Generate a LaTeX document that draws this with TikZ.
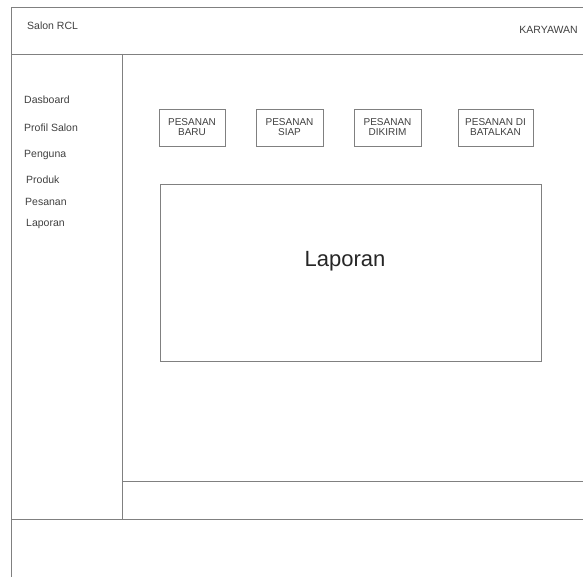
\documentclass[tikz,border=0pt]{standalone}
\usepackage{fontspec}
\setmainfont{Liberation Sans}
\usetikzlibrary{positioning}
\begin{document}
\begin{tikzpicture}[x=1pt,y=-1pt,
frameline/.style={draw=black!50, line width=0.9pt},
menutext/.style={anchor=west, inner sep=0pt, text=black!75, font=\fontsize{10.5}{11}\selectfont},
statusbox/.style={rectangle, frameline, minimum height=37pt, align=center, inner sep=1pt, text=black!75, font=\fontsize{10}{10}\selectfont},
reportbox/.style={rectangle, frameline, minimum width=381pt, minimum height=177pt}]
\useasboundingbox (0,0) rectangle (583,577);
% Frame
\draw[frameline] (583,7) -- (11,7) -- (11,577);
\draw[frameline] (11,54) -- (583,54);
\draw[frameline] (122,54) -- (122,519);
\draw[frameline] (122,481) -- (583,481);
\draw[frameline] (11,519) -- (583,519);
% Header
\node[menutext] (brand) at (27,26) {Salon RCL};
\node[menutext, anchor=east] (role) at (578,30) {KARYAWAN};
% Menu
\node[menutext] (dasboard) at (24,100) {Dasboard};
\node[menutext] (profil) at (24,128) {Profil Salon};
\node[menutext] (pengguna) at (24,155) {Penguna};
\node[menutext] (produk) at (26,180) {Produk};
\node[menutext] (pesanan) at (25,202) {Pesanan};
\node[menutext] (laporan) at (26,224) {Laporan};
% Status boxes
\node[statusbox, minimum width=66pt] (baru) at (192,127.5) {PESANAN\\BARU};
\node[statusbox, minimum width=67pt] (siap) at (289.5,127.5) {PESANAN\\SIAP};
\node[statusbox, minimum width=67pt] (dikirim) at (387.5,127.5) {PESANAN\\DIKIRIM};
\node[statusbox, minimum width=75pt] (batal) at (495.5,127.5) {PESANAN DI\\BATALKAN};
% Report
\node[reportbox] (report) at (350.5,272.5) {};
\node[text=black!85, font=\fontsize{22}{24}\selectfont] (reporttitle) at (345,261) {Laporan};
\end{tikzpicture}
\end{document}
